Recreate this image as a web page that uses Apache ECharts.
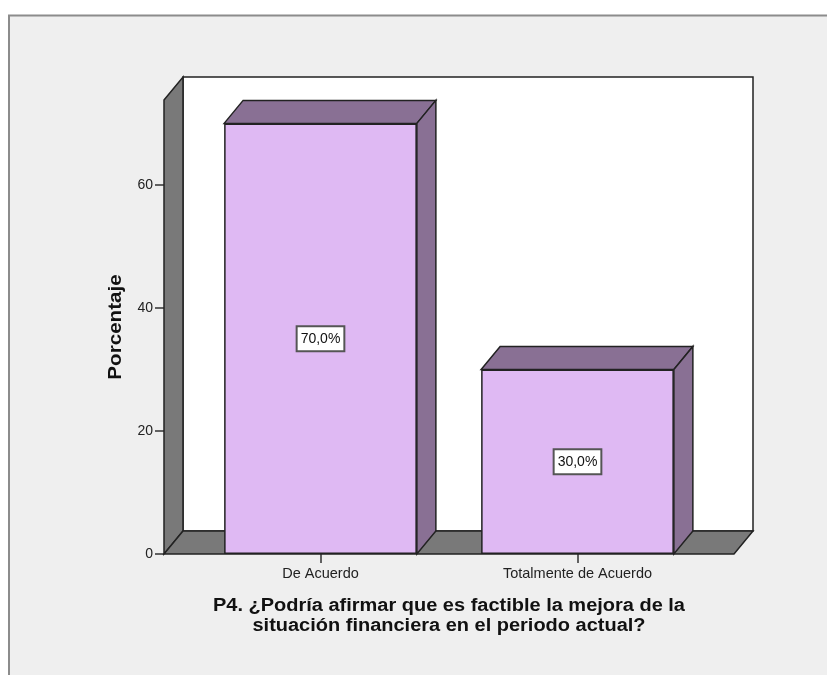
<!DOCTYPE html>
<html><head><meta charset="utf-8">
<style>html,body{margin:0;padding:0;background:#fff}#c{width:827px;height:675px}</style>
<script src="https://cdn.jsdelivr.net/npm/echarts@6/dist/echarts.min.js"></script>
</head><body><div id="c"></div>
<script>
const categories = ['De Acuerdo', 'Totalmente de Acuerdo'];
const percentages = [70, 30];
const yTicks = [0, 20, 40, 60];
const yMax = 73.8;
const xTitle = 'P4. ¿Podría afirmar que es factible la mejora de la\nsituación financiera en el periodo actual?';
const yTitle = 'Porcentaje';

const DX = 19, DY = -23, AXIS_EXT = 28;
const EDGE = '#222222', WALL = '#797979', SHADE = '#897094', FACE = '#dfb9f3';
const FONT = '"Liberation Sans", Arial, sans-serif';

const chart = echarts.init(document.getElementById('c'), null, {renderer: 'canvas'});

function poly(points, fill, lw) {
  return {type: 'polygon', shape: {points}, style: {fill, stroke: EDGE, lineWidth: lw || 1.5}};
}
function renderWalls(params, api) {
  const cs = params.coordSys;
  const l = cs.x - AXIS_EXT, r = cs.x + cs.width + AXIS_EXT, t = cs.y, b = cs.y + cs.height;
  return {type: 'group', children: [
    poly([[l + DX, t + DY], [r + DX, t + DY], [r + DX, b + DY], [l + DX, b + DY]], '#ffffff'),
    poly([[l, t], [l + DX, t + DY], [l + DX, b + DY], [l, b]], WALL),
    poly([[l, b], [r, b], [r + DX, b + DY], [l + DX, b + DY]], WALL)
  ]};
}
function renderDepth(params, api) {
  const idx = api.value(0), v = api.value(1);
  const top = api.coord([idx, v]), base = api.coord([idx, 0]);
  const half = api.size([1, 0])[0] * 0.75 / 2;
  const L = top[0] - half, R = top[0] + half;
  return {type: 'group', children: [
    poly([[L, top[1]], [R, top[1]], [R + DX, top[1] + DY], [L + DX, top[1] + DY]], SHADE),
    poly([[R, top[1]], [R + DX, top[1] + DY], [R + DX, base[1] + DY], [R, base[1]]], SHADE)
  ]};
}

chart.setOption({
  animation: false,
  backgroundColor: '#ffffff',
  graphic: [
    {type: 'rect', z: -10, silent: true,
      shape: {x: 9, y: 15.5, width: 900, height: 760},
      style: {fill: '#efefef', stroke: '#8c8c8c', lineWidth: 2}},
    {type: 'text', z: 10, silent: true, x: 449, y: 616, scaleX: 1.11,
      style: {text: xTitle, fill: '#111', font: 'bold 18px ' + FONT, lineHeight: 20,
        textAlign: 'center', textVerticalAlign: 'middle'}},
    {type: 'text', z: 10, silent: true, x: 116, y: 327, rotation: Math.PI / 2, scaleX: 1.145,
      style: {text: yTitle, fill: '#111', font: 'bold 18px ' + FONT,
        textAlign: 'center', textVerticalAlign: 'middle'}}
  ],
  grid: {left: 192, right: 121, top: 100, bottom: 121, containLabel: false},
  xAxis: {
    type: 'category', data: categories,
    axisLine: {show: false},
    axisTick: {show: true, alignWithLabel: true, length: 9, lineStyle: {color: '#333', width: 1.5}},
    axisLabel: {fontFamily: FONT, fontSize: 14.5, color: '#222', margin: 12}
  },
  yAxis: {
    type: 'value', min: 0, max: yMax, interval: 20, offset: AXIS_EXT,
    splitLine: {show: false},
    axisLine: {show: false},
    axisTick: {show: true, length: 9, lineStyle: {color: '#333', width: 1.5}},
    axisLabel: {fontFamily: FONT, fontSize: 14, color: '#222', margin: 11, showMaxLabel: false,
      formatter: v => yTicks.includes(v) ? String(v) : ''}
  },
  series: [
    {type: 'custom', z: 1, clip: false, silent: true, data: [[0, 0]], renderItem: renderWalls},
    {type: 'custom', z: 2, clip: false, silent: true,
      data: percentages.map((v, i) => [i, v]), renderItem: renderDepth},
    {type: 'bar', z: 3, data: percentages, barWidth: '75%', silent: true,
      itemStyle: {color: FACE, borderColor: EDGE, borderWidth: 1.5},
      label: {show: true, position: 'inside', fontFamily: FONT, fontSize: 14, color: '#111',
        formatter: p => p.value.toFixed(1).replace('.', ',') + '%',
        backgroundColor: '#ffffff', borderColor: '#555', borderWidth: 2,
        padding: [5, 3, 4, 3]}}
  ]
});
</script></body></html>
